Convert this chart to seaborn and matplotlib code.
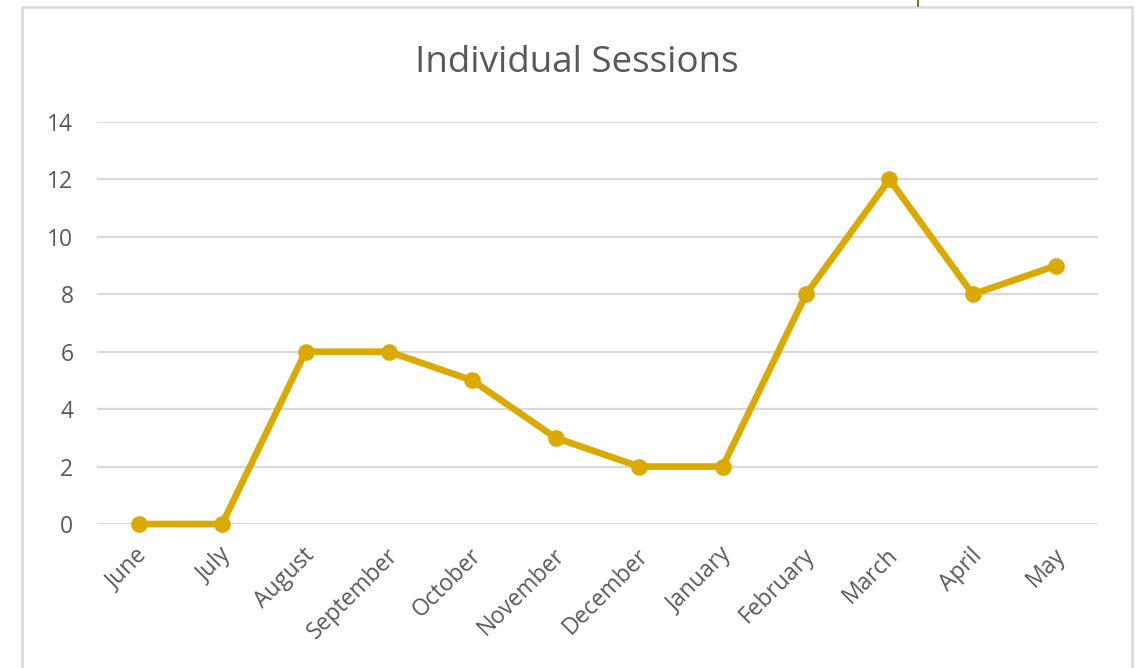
import matplotlib
matplotlib.use("Agg")
import matplotlib.pyplot as plt
import matplotlib.transforms as mtransforms
import seaborn as sns
import pandas as pd
from matplotlib.patches import Rectangle
from matplotlib.lines import Line2D

months = ["June", "July", "August", "September", "October", "November",
          "December", "January", "February", "March", "April", "May"]
sessions = [0, 0, 6, 6, 5, 3, 2, 2, 8, 12, 8, 9]
yticks = [0, 2, 4, 6, 8, 10, 12, 14]
title = "Individual Sessions"

df = pd.DataFrame({"month": months, "sessions": sessions})

sns.set_theme(style="white")
plt.rcParams["font.family"] = ["Open Sans", "DejaVu Sans"]

W, H = 1137, 668
fig = plt.figure(figsize=(W / 100, H / 100), dpi=100)
fig.patch.set_facecolor("white")
ax = fig.add_axes([97 / W, 144 / H, (1098 - 97) / W, (524 - 122) / H])

gold = "#DAAA00"
sns.lineplot(data=df, x="month", y="sessions", ax=ax, sort=False,
             color=gold, linewidth=4.8, marker="o", markersize=12,
             markeredgewidth=0, zorder=3, clip_on=False)

ax.set_xlim(-0.5, len(months) - 0.5)
ax.set_ylim(0, 14)
ax.set_yticks(yticks)
ax.set_yticklabels([str(v) for v in yticks])
ax.yaxis.grid(True, color="#D9D9D9", linewidth=1.6, zorder=0)
ax.xaxis.grid(False)
ax.set_axisbelow(True)
for s in ax.spines.values():
    s.set_visible(False)
ax.set_xlabel("")
ax.set_ylabel("")
ax.tick_params(axis="both", length=0, colors="#595959", labelsize=16.5)
ax.tick_params(axis="y", pad=17)
ax.tick_params(axis="x", pad=14)
shift = mtransforms.ScaledTranslation(-3 / 100, 0, fig.dpi_scale_trans)
for lab in ax.get_xticklabels():
    lab.set_rotation(45)
    lab.set_ha("right")
    lab.set_rotation_mode("anchor")
    lab.set_transform(lab.get_transform() + shift)

fig.text(577 / W, 1 - 72 / H, title, ha="center", va="baseline",
         fontsize=26.5, color="#595959")

# chart frame
fig.add_artist(Rectangle((22 / W, -0.05), (1132 - 22) / W, 1.05 - 7 / H,
                         transform=fig.transFigure, fill=False,
                         edgecolor="#D9D9D9", linewidth=1.8))
fig.add_artist(Line2D([918 / W, 918 / W], [1, 1 - 6 / H],
                      transform=fig.transFigure, color="#8B6A2E", linewidth=1.5))

fig.savefig("out.png", dpi=100)
